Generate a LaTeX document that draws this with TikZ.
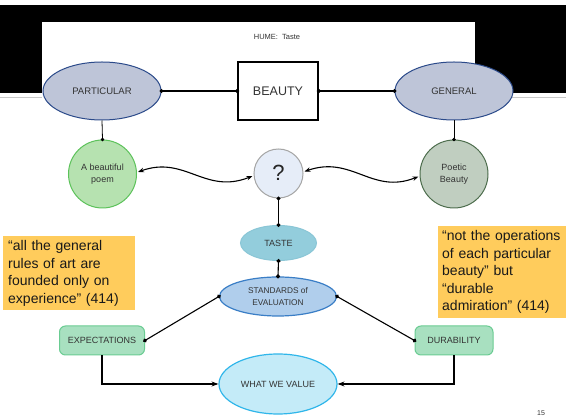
\documentclass[tikz,border=0pt]{standalone}
\usepackage{fontspec}
\setmainfont{Liberation Sans}
\usetikzlibrary{shapes.geometric,arrows.meta}
\definecolor{partfill}{HTML}{BEC5D8}
\definecolor{partdraw}{HTML}{2B4A8A}
\definecolor{poemfill}{HTML}{B6E2B0}
\definecolor{poemdraw}{HTML}{5CC25A}
\definecolor{poeticfill}{HTML}{C0CEC0}
\definecolor{poeticdraw}{HTML}{4E6E4E}
\definecolor{qfill}{HTML}{E6EDF8}
\definecolor{qdraw}{HTML}{A5A5A5}
\definecolor{tastefill}{HTML}{93CDDC}
\definecolor{tastedraw}{HTML}{8AC6D6}
\definecolor{stdfill}{HTML}{B0CEEC}
\definecolor{stddraw}{HTML}{3A7EC6}
\definecolor{mintfill}{HTML}{A8E0C0}
\definecolor{mintdraw}{HTML}{6ACC92}
\definecolor{valfill}{HTML}{C4EBF8}
\definecolor{valdraw}{HTML}{30B6EA}
\definecolor{quotefill}{HTML}{FFCC5C}
\definecolor{rulegray}{HTML}{C8C8C8}
\definecolor{textgray}{HTML}{333333}
\begin{document}
\begin{tikzpicture}[x=1pt,y=-1pt,
  lbl/.style={font=\fontsize{9}{11.5}\selectfont, text=textgray, align=center, inner sep=0pt},
  ell/.style={lbl, ellipse, line width=1pt},
  roundnode/.style={lbl, circle, line width=1pt},
  mintbox/.style={lbl, rectangle, rounded corners=6pt, fill=mintfill, draw=mintdraw, line width=1pt},
  quotebox/.style={rectangle, fill=quotefill, anchor=north west, align=left, inner xsep=5pt, inner ysep=0pt,
     font=\fontsize{14}{17.5}\selectfont, text=black!90},
  dotline/.style={line width=1.1pt, {Circle[length=4pt]}-{Circle[length=4pt]}, shorten <=-2pt, shorten >=-2pt},
  stemline/.style={line width=0.8pt, -{Circle[length=3.5pt]}, shorten >=-1.75pt},
  wavy/.style={line width=1.1pt, {Stealth[length=6pt,width=4.5pt]}-{Stealth[length=6pt,width=4.5pt]}},
  elbow/.style={line width=1.1pt, -{Stealth[length=7pt,width=5pt]}}
]
\useasboundingbox (0,0) rectangle (566,419);
\fill[white] (0,0) rectangle (566,419);
\fill[black] (0,5) rectangle (566,93);
\draw[rulegray, line width=0.8pt] (0,97.5) -- (566,97.5);
\fill[white] (42,22) rectangle (475,103);

\node[lbl, font=\fontsize{7.5}{9}\selectfont] (title) at (277,37) {HUME:\ \ Taste};

\node[ell, fill=partfill, draw=partdraw, minimum width=118, minimum height=58, font=\fontsize{9.5}{11}\selectfont] (part) at (102,91) {PARTICULAR};
\node[lbl, rectangle, draw=black, fill=white, line width=1.6pt, minimum width=80, minimum height=58, font=\fontsize{12.5}{14}\selectfont] (beauty) at (278,91) {BEAUTY};
\node[ell, fill=partfill, draw=partdraw, minimum width=118, minimum height=58, font=\fontsize{9.5}{11}\selectfont] (gen) at (454,91) {GENERAL};

\node[roundnode, fill=poemfill, draw=poemdraw, minimum size=68] (poem) at (102.5,174) {A beautiful\\poem};
\node[roundnode, fill=qfill, draw=qdraw, minimum size=49, font=\fontsize{22}{24}\selectfont, text=black!85] (q) at (278.5,173.5) {\raisebox{1pt}{?}};
\node[roundnode, fill=poeticfill, draw=poeticdraw, minimum size=68] (poetic) at (454,174) {Poetic\\Beauty};

\node[ell, fill=tastefill, draw=tastedraw, minimum width=76, minimum height=35] (taste) at (278.5,243) {TASTE};
\node[ell, fill=stdfill, draw=stddraw, line width=1.2pt, minimum width=117, minimum height=39, font=\fontsize{8.3}{12}\selectfont] (std) at (278,296.5) {STANDARDS of\\EVALUATION};
\node[mintbox, minimum width=85, minimum height=29] (exp) at (102,340.5) {EXPECTATIONS};
\node[mintbox, minimum width=78, minimum height=29] (dur) at (454,340.5) {DURABILITY};
\node[ell, fill=valfill, draw=valdraw, line width=1.2pt, minimum width=118, minimum height=60] (val) at (278,384) {WHAT WE VALUE};

\node[quotebox, minimum width=132, minimum height=74, text width=122pt] (lq) at (3,236) {“all the general\\rules of art are\\founded only on\\experience” (414)};
\node[quotebox, minimum width=129, minimum height=92, inner xsep=4.5pt, text width=120pt] (rq) at (437.5,226) {“not the operations\\of each particular\\beauty” but\\“durable\\admiration” (414)};

\node[lbl, font=\fontsize{7}{8}\selectfont] (pg) at (541,413) {15};

\draw[dotline] (part.east) -- (beauty.west);
\draw[dotline] (beauty.east) -- (gen.west);
\draw[stemline] (part.south) -- (poem.north);
\draw[stemline] (gen.south) -- (poetic.north);
\draw[wavy] ([xshift=1pt,yshift=2pt]poem.east) .. controls (185,155) and (205,195) .. ([xshift=-1pt,yshift=-2.5pt]q.west);
\draw[wavy] ([xshift=1pt,yshift=2pt]q.east) .. controls (352,155) and (372,195) .. ([xshift=-1pt,yshift=-2.5pt]poetic.west);
\draw[dotline] (q.south) -- (taste.north);
\draw[dotline] (taste.south) -- (std.north);
\draw[dotline] (std.west) -- (exp.east);
\draw[dotline] (std.east) -- (dur.west);
\draw[elbow] (exp.south) |- (val.west);
\draw[elbow] (dur.south) |- (val.east);
\end{tikzpicture}
\end{document}
